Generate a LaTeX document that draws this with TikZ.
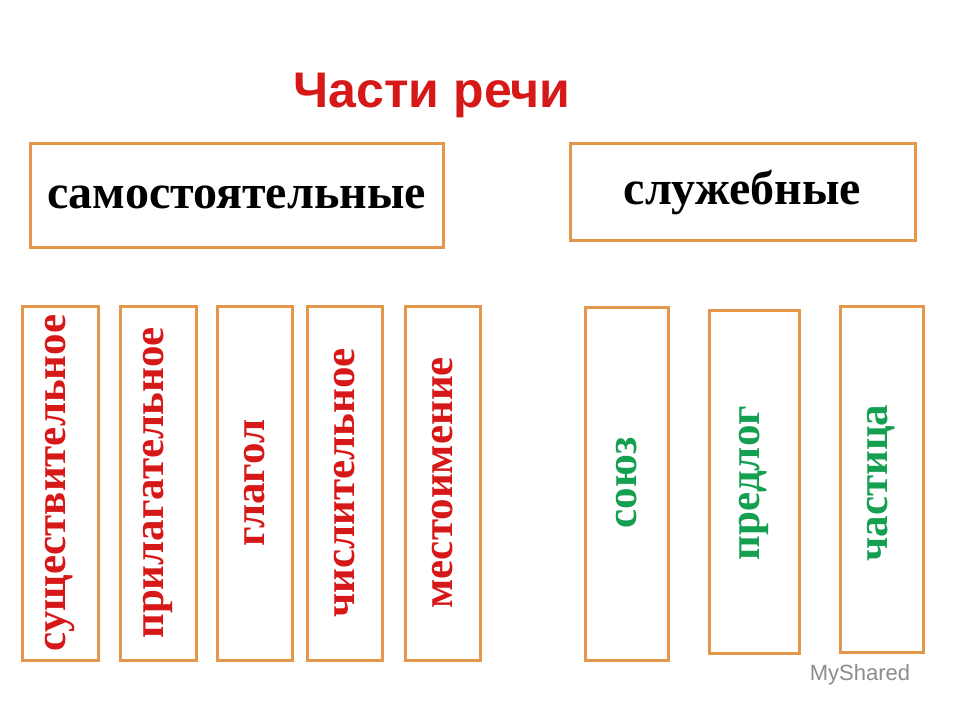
\documentclass[tikz,border=0pt]{standalone}
\usepackage{fontspec}
\setmainfont{Liberation Serif}
\newfontfamily\titlefont{Liberation Sans}
\definecolor{frameorange}{RGB}{228,150,75}
\definecolor{wordred}{RGB}{214,24,24}
\definecolor{wordgreen}{RGB}{20,160,80}
\tikzset{
  groupbox/.style={draw=frameorange, line width=3pt},
  grouptext/.style={font=\fontsize{48}{54}\selectfont\bfseries},
  wordbox/.style={draw=frameorange, line width=3pt},
  wordtext/.style={rotate=90, font=\fontsize{43}{48}\selectfont\bfseries}
}
\begin{document}
\begin{tikzpicture}[x=1pt,y=-1pt]
        \useasboundingbox[fill=white] (0,0) rectangle (960,720);

        \node[text=wordred, font=\titlefont\fontsize{50}{56}\selectfont\bfseries] (title) at (432,95) {Части речи};

        % groups
        \draw[groupbox] (30,143) rectangle (443,247);
        \node[grouptext] (indep) at (236.5,197) {самостоятельные};
        \draw[groupbox] (570,143) rectangle (915,240);
        \node[grouptext] (aux) at (742.5,192) {служебные};

        % words
        \foreach \xa/\xb/\ya/\yb/\word/\col [count=\i] in {
            22/98/306/660/существительное/wordred,
            120/196/306/660/прилагательное/wordred,
            217/292/306/660/глагол/wordred,
            307/382/306/660/числительное/wordred,
            405/480/306/660/местоимение/wordred,
            585/668/307/660/союз/wordgreen,
            709/799/310/653/предлог/wordgreen,
            840/923/306/652/частица/wordgreen} {
          \draw[wordbox] (\xa,\ya) rectangle (\xb,\yb);
          \node[wordtext, text=\col] (w\i) at ({(\xa+\xb)/2},483) {\word};
        }

        \node[text=black!45, font=\titlefont\fontsize{22}{26}\selectfont] (mark) at (860,675) {MyShared};
    \end{tikzpicture}
\end{document}
